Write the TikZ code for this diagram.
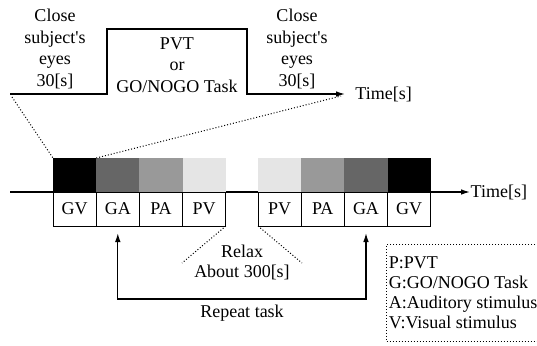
\documentclass[tikz,border=0pt]{standalone}
\usepackage{fontspec}
\setmainfont{Liberation Serif}
\usetikzlibrary{positioning,arrows.meta}
\tikzset{
    timeline/.style={line width=0.65pt,-{Latex[length=4.5pt,width=2.8pt]}},
    guide/.style={densely dotted,line width=0.5pt},
    taskbox/.style={draw,line width=0.5pt,minimum width=21.6pt,minimum height=17pt,
        inner sep=0pt,outer sep=0pt},
    cuebox/.style={minimum width=21.6pt,minimum height=17pt,inner sep=0pt,outer sep=0pt},
    caption/.style={align=center,inner sep=0pt},
    tall caption/.style={caption,font=\fontsize{9}{10.7}\selectfont}
}

\begin{document}
\begin{tikzpicture}[x=0.5pt,y=-0.5pt,font=\fontsize{9}{10}\selectfont]
\useasboundingbox (0,0) rectangle (537,345);

% one trial: eyes closed, task, eyes closed
\coordinate (pulse start) at (10,94);
\coordinate (pulse end) at (345,94);
\draw[timeline] (pulse start) -- (107,94) -- (107,29) -- (247,29) -- (247,94) -- (pulse end);
\node[tall caption] (close left) at (55,49) {Close\\subject\textquotesingle s\\eyes\\30[s]};
\node[tall caption] (task) at (177,65) {PVT\\or\\GO/NOGO Task};
\node[tall caption] (close right) at (297,49) {Close\\subject\textquotesingle s\\eyes\\30[s]};
\node[anchor=west,inner sep=0pt] (time top) at (355,94) {Time[s]};

% whole session
\coordinate (line start) at (10,192);
\draw[timeline] (line start) -- (470,192) node[right,inner sep=0pt] (time bottom) {Time[s]};

\node[taskbox] (gv1) at (74.6,209) {GV};
\node[taskbox,right=0pt of gv1] (ga1) {GA};
\node[taskbox,right=0pt of ga1] (pa1) {PA};
\node[taskbox,right=0pt of pa1] (pv1) {PV};
\node[taskbox] (pv2) at (279.6,209) {PV};
\node[taskbox,right=0pt of pv2] (pa2) {PA};
\node[taskbox,right=0pt of pa2] (ga2) {GA};
\node[taskbox,right=0pt of ga2] (gv2) {GV};

\node[cuebox,fill=black,above=0pt of gv1] (gv1 cue) {};
\node[cuebox,fill=black!60,above=0pt of ga1] (ga1 cue) {};
\node[cuebox,fill=black!40,above=0pt of pa1] (pa1 cue) {};
\node[cuebox,fill=black!10,above=0pt of pv1] (pv1 cue) {};
\node[cuebox,fill=black!10,above=0pt of pv2] (pv2 cue) {};
\node[cuebox,fill=black!40,above=0pt of pa2] (pa2 cue) {};
\node[cuebox,fill=black!60,above=0pt of ga2] (ga2 cue) {};
\node[cuebox,fill=black,above=0pt of gv2] (gv2 cue) {};

% zoom lines
\coordinate (zoom left) at (12,97);
\coordinate (zoom right) at (341,96);
\draw[guide] (zoom left) -- (gv1 cue.north west);
\draw[guide] (ga1 cue.north west) -- (zoom right);

\node[caption] (relax) at (242,262) {Relax\\About 300[s]};
\coordinate (relax left) at (182,263);
\coordinate (relax right) at (302,263);
\draw[guide] (pv1.south east) -- (relax left);
\draw[guide] (pv2.south west) -- (relax right);

% repeat loop
\draw[timeline,{Latex[length=4.5pt,width=2.8pt]}-{Latex[length=4.5pt,width=2.8pt]}]
    ([yshift=-3.5pt]ga1.south) -- ++(0,66) -| ([yshift=-3.5pt]ga2.south);
\node[caption] (repeat) at (242,313) {Repeat task};

\node[draw,guide,anchor=north west,align=left,minimum width=75pt,minimum height=48.5pt,
    inner xsep=1.2pt,inner ysep=0pt] (legend) at (386,244)
    {P:PVT\\G:GO/NOGO Task\\A:Auditory stimulus\\V:Visual stimulus};
\end{tikzpicture}
\end{document}
